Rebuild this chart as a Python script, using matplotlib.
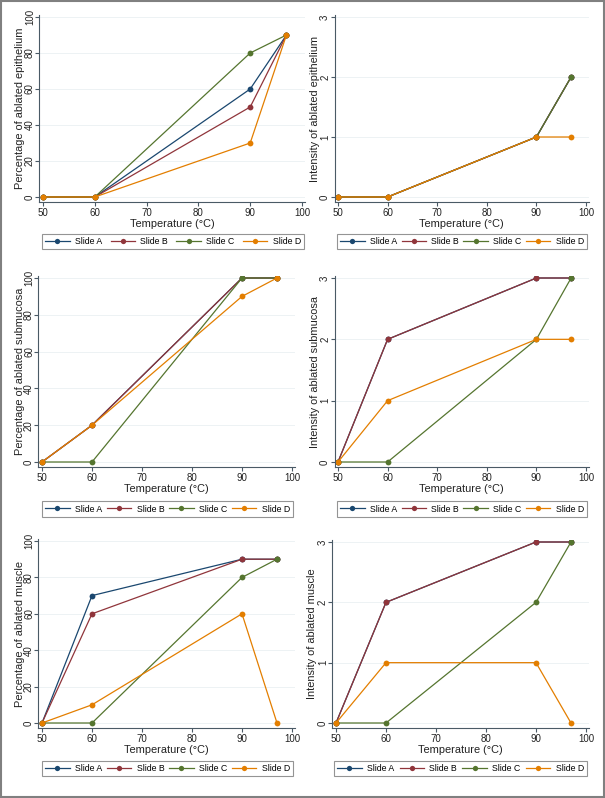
"""Six-panel ablation plots (percentage / intensity vs temperature) in Stata-like style."""
import matplotlib
matplotlib.use("Agg")
import matplotlib.pyplot as plt
from matplotlib import font_manager
from matplotlib.lines import Line2D
from matplotlib.patches import Rectangle

installed = {f.name for f in font_manager.fontManager.ttflist}
narrow = "Liberation Sans Narrow" if "Liberation Sans Narrow" in installed else "Liberation Sans"
plt.rcParams["font.family"] = [narrow, "DejaVu Sans"]

temperature = [50, 60, 90, 97]
slides = ["Slide A", "Slide B", "Slide C", "Slide D"]
colors = ["#1a476f", "#90353b", "#55752f", "#e37e00"]

epi_pct = {"Slide A": [0, 0, 60, 90], "Slide B": [0, 0, 50, 90],
           "Slide C": [0, 0, 80, 90], "Slide D": [0, 0, 30, 90]}
epi_int = {"Slide A": [0, 0, 1, 2], "Slide B": [0, 0, 1, 2],
           "Slide C": [0, 0, 1, 2], "Slide D": [0, 0, 1, 1]}
sub_pct = {"Slide A": [0, 20, 100, 100], "Slide B": [0, 20, 100, 100],
           "Slide C": [0, 0, 100, 100], "Slide D": [0, 20, 90, 100]}
sub_int = {"Slide A": [0, 2, 3, 3], "Slide B": [0, 2, 3, 3],
           "Slide C": [0, 0, 2, 3], "Slide D": [0, 1, 2, 2]}
mus_pct = {"Slide A": [0, 70, 90, 90], "Slide B": [0, 60, 90, 90],
           "Slide C": [0, 0, 80, 90], "Slide D": [0, 10, 60, 0]}
mus_int = {"Slide A": [0, 2, 3, 3], "Slide B": [0, 2, 3, 3],
           "Slide C": [0, 0, 2, 3], "Slide D": [0, 1, 1, 0]}

W, H = 605, 798


def rect_from_px(x50, x100, y0, ytop, xlim, ylim, yval_top):
    """Axes rectangle (figure fraction) so that tick pixels land where they should."""
    sx = (x100 - x50) / 50.0
    sy = (y0 - ytop) / yval_top
    left = x50 - (50 - xlim[0]) * sx
    right = x50 + (xlim[1] - 50) * sx
    bottom = y0 + (0 - ylim[0]) * sy
    top = y0 - (ylim[1] - 0) * sy
    return [left / W, 1 - bottom / H, (right - left) / W, (bottom - top) / H]


def draw_panel(fig, pos, data, ylabel, pct, legend_box, ylabel_x):
    xlim = (49.3, 100.6)
    if pct:
        ylim, yticks, ytop = (-2.8, 101), [0, 20, 40, 60, 80, 100], 100
    else:
        ylim, yticks, ytop = (-0.085, 3.03), [0, 1, 2, 3], 3
    rect = rect_from_px(*pos, xlim, ylim, ytop)
    ax = fig.add_axes(rect)
    for y in yticks:
        ax.axhline(y, color="#edf2f4", lw=0.7, zorder=0)
    for name, c in zip(slides, colors):
        ax.plot(temperature, data[name], color=c, lw=0.9, marker="o",
                markersize=4.2, markeredgewidth=0, zorder=2)
    ax.set_xlim(*xlim)
    ax.set_ylim(*ylim)
    ax.set_xticks([50, 60, 70, 80, 90, 100])
    ax.set_yticks(yticks)
    for s in ("top", "right"):
        ax.spines[s].set_visible(False)
    for s in ("left", "bottom"):
        ax.spines[s].set_color("#4a5a66")
        ax.spines[s].set_linewidth(0.8)
    ax.tick_params(axis="both", colors="#4a5a66", labelcolor="#222222",
                   length=3.0, width=0.8, labelsize=7.0)
    ax.tick_params(axis="x", pad=1.2)
    ax.tick_params(axis="y", pad=0.2)
    for lbl in ax.get_yticklabels():
        lbl.set_rotation(90)
        lbl.set_va("center")
    ax.set_xlabel("Temperature (\u00b0C)", fontsize=7.9, labelpad=1.0, color="#222222")
    ax.set_ylabel(ylabel, fontsize=7.9, color="#222222")
    # right edge of the rotated label sits at ylabel_x pixels
    ax.yaxis.set_label_coords((ylabel_x / W - rect[0]) / rect[2], 0.5)

    handles = [Line2D([], [], color=c, lw=0.9, marker="o", markersize=3.8,
                      markeredgewidth=0) for c in colors]
    x0, y0, x1, y1 = legend_box
    fig.legend(handles, slides, loc="center",
               bbox_to_anchor=(x0 / W, 1 - y1 / H, (x1 - x0) / W, (y1 - y0) / H),
               mode="expand", ncol=4, fontsize=6.3, frameon=True, fancybox=False,
               edgecolor="#7a7a7a", handlelength=2.8, handletextpad=0.6,
               columnspacing=1.2, borderpad=0.35, borderaxespad=0)
    fig.legends[-1].get_frame().set_linewidth(0.8)
    return ax


fig = plt.figure(figsize=(W / 100, H / 100), dpi=100)
fig.patch.set_facecolor("white")

draw_panel(fig, (43, 302, 197, 17), epi_pct, "Percentage of ablated epithelium", True,
           (42, 233, 304, 250), 25)
draw_panel(fig, (338, 586, 197, 17), epi_int, "Intensity of ablated epithelium", False,
           (337, 233, 587, 250), 320)
draw_panel(fig, (42, 292, 462, 278), sub_pct, "Percentage of ablated submucosa", True,
           (42, 500, 293, 518), 25)
draw_panel(fig, (338, 586, 462, 278), sub_int, "Intensity of ablated submucosa", False,
           (337, 500, 587, 518), 320)
draw_panel(fig, (42, 292, 723, 541), mus_pct, "Percentage of ablated muscle", True,
           (42, 760, 293, 777), 25)
draw_panel(fig, (336, 586, 723, 542), mus_int, "Intensity of ablated muscle", False,
           (334, 760, 587, 777), 317)

# outer frame around the whole figure
fig.patches.append(Rectangle((0.001, 0.001), 0.998, 0.998, transform=fig.transFigure,
                             fill=False, edgecolor="#808080", lw=1.5))

fig.savefig("out.png", dpi=100)
